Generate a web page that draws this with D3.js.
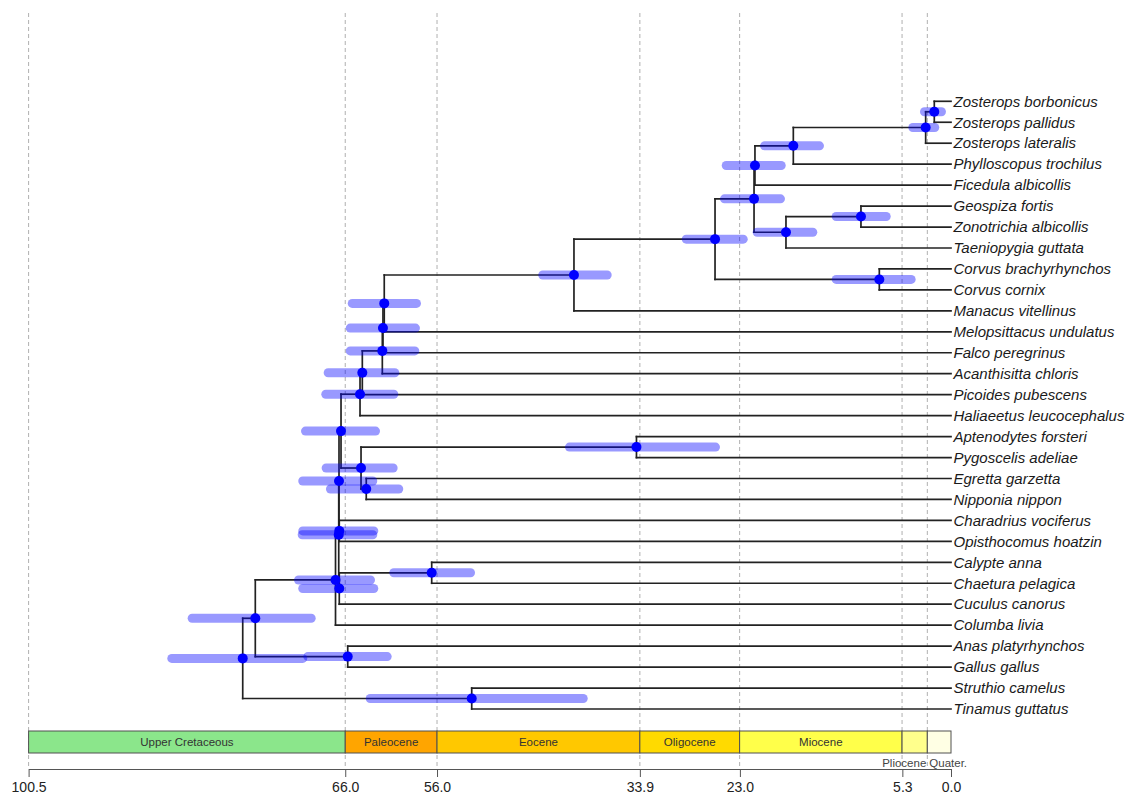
<!DOCTYPE html>
<html><head><meta charset="utf-8">
<script src="https://cdn.jsdelivr.net/npm/d3@7"></script>
<style>body{margin:0;background:#fff} svg{display:block}</style>
</head><body>
<svg id="chart" width="1132" height="800"></svg>
<script>
// ---------- data ----------
const tips = [
  "Zosterops borbonicus","Zosterops pallidus","Zosterops lateralis","Phylloscopus trochilus",
  "Ficedula albicollis","Geospiza fortis","Zonotrichia albicollis","Taeniopygia guttata",
  "Corvus brachyrhynchos","Corvus cornix","Manacus vitellinus","Melopsittacus undulatus",
  "Falco peregrinus","Acanthisitta chloris","Picoides pubescens","Haliaeetus leucocephalus",
  "Aptenodytes forsteri","Pygoscelis adeliae","Egretta garzetta","Nipponia nippon",
  "Charadrius vociferus","Opisthocomus hoatzin","Calypte anna","Chaetura pelagica",
  "Cuculus canorus","Columba livia","Anas platyrhynchos","Gallus gallus",
  "Struthio camelus","Tinamus guttatus"
];
const nodeNames = ["n1","n2","n3","n4","n5","n6","n7","n8","n9","n10","n11","n12","n13","n14","n15",
  "n16","n17","n18","n19","n20","n21","n22","n23","n24","n25","n26","n27","n28","n29"];
const nodeChildren = [
  ["Zosterops borbonicus","Zosterops pallidus"],
  ["n1","Zosterops lateralis"],
  ["n2","Phylloscopus trochilus"],
  ["n3","Ficedula albicollis"],
  ["Geospiza fortis","Zonotrichia albicollis"],
  ["n5","Taeniopygia guttata"],
  ["n4","n6"],
  ["Corvus brachyrhynchos","Corvus cornix"],
  ["n7","n8"],
  ["n9","Manacus vitellinus"],
  ["n10","Melopsittacus undulatus"],
  ["n11","Falco peregrinus"],
  ["n12","Acanthisitta chloris"],
  ["n13","Picoides pubescens"],
  ["n14","Haliaeetus leucocephalus"],
  ["Aptenodytes forsteri","Pygoscelis adeliae"],
  ["Egretta garzetta","Nipponia nippon"],
  ["n16","n17"],
  ["n15","n18"],
  ["Charadrius vociferus","Opisthocomus hoatzin"],
  ["n19","n20"],
  ["Calypte anna","Chaetura pelagica"],
  ["n22","Cuculus canorus"],
  ["n21","n23"],
  ["n24","Columba livia"],
  ["Anas platyrhynchos","Gallus gallus"],
  ["n25","n26"],
  ["Struthio camelus","Tinamus guttatus"],
  ["n27","n28"]
];
const nodeAges = [1.82,2.76,17.18,21.36,9.81,17.98,21.46,7.81,25.71,41.08,
  61.75,61.89,61.96,64.14,64.39,34.27,63.71,64.28,66.46,66.65,
  66.68,56.58,66.65,66.71,67.06,65.73,75.80,52.22,77.17];
const hpdOld = [2.89,4.16,20.32,24.49,12.51,21.12,24.68,12.51,28.85,44.48,
  65.24,65.46,65.46,67.86,68.12,41.57,67.61,68.08,70.33,70.63,
  70.63,60.71,70.63,70.69,71.09,70.08,82.68,63.28,84.90];
const hpdYoung = [1.04,1.77,14.33,18.50,7.06,15.06,18.58,4.34,22.64,37.46,
  58.24,58.35,58.42,60.60,60.71,25.66,60.17,60.78,62.70,62.89,
  63.00,52.35,62.89,63.00,63.25,61.43,69.71,40.07,70.63];

const periodNames = ["Upper Cretaceous","Paleocene","Eocene","Oligocene","Miocene","Pliocene","Quater."];
const periodStart = [100.5,66.0,56.0,33.9,23.03,5.333,2.58];
const periodEnd   = [66.0,56.0,33.9,23.03,5.333,2.58,0];
const tickValues = [100.5,66.0,56.0,33.9,23.0,5.3,0.0];
const boundaryLines = [100.5,66.0,56.0,33.9,23.03,5.333,2.58];

// ---------- styles ----------
const periodColor = d3.scaleOrdinal(periodNames,
  ["#8BE68B","#FFA500","#FFC800","#FFDA00","#FFFF4A","#FFFF8C","#FFFFE4"]);
const FONT = "'Liberation Sans', Arial, Helvetica, sans-serif";

// ---------- scales ----------
const svg = d3.select("#chart");
const x = d3.scaleLinear().domain([100.5, 0]).range([28.6, 951]);
const y = d3.scalePoint().domain(tips).range([101.3, 709]);

const pos = new Map();
tips.forEach(t => pos.set(t, {x: x(0), y: y(t)}));
const nodes = nodeNames.map((n, i) => {
  const ch = nodeChildren[i].map(c => pos.get(c));
  const p = {name: n, age: nodeAges[i], x: x(nodeAges[i]), y: d3.mean(ch, c => c.y),
             ch, old: hpdOld[i], young: hpdYoung[i]};
  pos.set(n, p);
  return p;
});

const axisY = 769, barTop = 731, barH = 22;

// ---------- dashed boundary lines ----------
svg.append("g").selectAll("line").data(boundaryLines).join("line")
  .attr("x1", d => x(d)).attr("x2", d => x(d))
  .attr("y1", 13).attr("y2", axisY)
  .attr("stroke", "#b0b0b0").attr("stroke-width", 1)
  .attr("stroke-dasharray", "4,3");

// ---------- tree ----------
const gTree = svg.append("g").attr("stroke", "#222").attr("stroke-width", 1.7)
  .attr("stroke-linecap", "square").attr("fill", "none");
nodes.forEach(n => {
  gTree.append("line").attr("x1", n.x).attr("x2", n.x)
    .attr("y1", d3.min(n.ch, c => c.y)).attr("y2", d3.max(n.ch, c => c.y));
  n.ch.forEach(c => {
    gTree.append("line").attr("x1", n.x).attr("x2", c.x).attr("y1", c.y).attr("y2", c.y);
  });
});

// ---------- HPD bars ----------
svg.append("g").selectAll("line").data(nodes).join("line")
  .attr("x1", d => x(d.old)).attr("x2", d => x(d.young))
  .attr("y1", d => d.y).attr("y2", d => d.y)
  .attr("stroke", "rgba(0,0,255,0.4)").attr("stroke-width", 9)
  .attr("stroke-linecap", "round");

// ---------- node dots ----------
svg.append("g").selectAll("circle").data(nodes).join("circle")
  .attr("cx", d => d.x).attr("cy", d => d.y).attr("r", 5)
  .attr("fill", "#0000ff");

// ---------- tip labels ----------
svg.append("g").selectAll("text").data(tips).join("text")
  .attr("x", x(0) + 2.5).attr("y", d => y(d)).attr("dy", "0.35em")
  .attr("font-family", FONT).attr("font-size", 15).attr("font-style", "italic")
  .attr("fill", "#1a1a1a").text(d => d);

// ---------- geological time bar ----------
const gGeo = svg.append("g");
gGeo.selectAll("rect").data(periodNames).join("rect")
  .attr("x", (d, i) => x(periodStart[i]))
  .attr("width", (d, i) => x(periodEnd[i]) - x(periodStart[i]))
  .attr("y", barTop).attr("height", barH)
  .attr("fill", d => periodColor(d)).attr("stroke", "#505050").attr("stroke-width", 1);
gGeo.selectAll("text.in").data(periodNames.slice(0, 5)).join("text")
  .attr("class", "in")
  .attr("x", (d, i) => x((periodStart[i] + periodEnd[i]) / 2))
  .attr("y", barTop + barH / 2).attr("dy", "0.35em")
  .attr("text-anchor", "middle").attr("font-family", FONT).attr("font-size", 11.5)
  .attr("fill", "#333").text(d => d);
// narrow periods labelled below the bar, either side of their shared boundary
gGeo.append("text").attr("x", x(periodStart[6]) - 1).attr("y", barTop + barH + 10).attr("dy", "0.35em")
  .attr("text-anchor", "end").attr("font-family", FONT).attr("font-size", 11.5)
  .attr("fill", "#444").text(periodNames[5]);
gGeo.append("text").attr("x", x(periodStart[6]) + 2).attr("y", barTop + barH + 10).attr("dy", "0.35em")
  .attr("text-anchor", "start").attr("font-family", FONT).attr("font-size", 11.5)
  .attr("fill", "#444").text(periodNames[6]);

// ---------- axis ----------
const ax = svg.append("g").attr("transform", `translate(0,${axisY})`)
  .call(d3.axisBottom(x).tickValues(tickValues).tickFormat(d3.format(".1f"))
        .tickSize(8).tickSizeOuter(0).tickPadding(5));
ax.select(".domain").attr("stroke", "#555");
ax.selectAll(".tick line").attr("stroke", "#555");
ax.selectAll(".tick text").attr("font-family", FONT).attr("font-size", 14).attr("fill", "#222");
</script>
</body></html>
